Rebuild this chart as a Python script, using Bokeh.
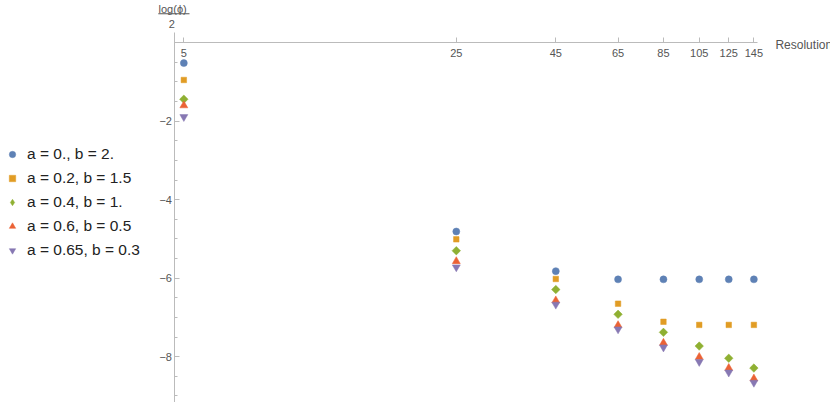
import math
from bokeh.plotting import figure
from bokeh.models import (FixedTicker, Legend, LegendItem, Label, PrintfTickFormatter,
                          Range1d, ColumnDataSource, BoxAnnotation, CDSView, IndexFilter)
from bokeh.embed import file_html
from bokeh.resources import INLINE

# ---- data ----
resolution = [5, 25, 45, 65, 85, 105, 125, 145]
series_labels = ["a = 0., b = 2.", "a = 0.2, b = 1.5", "a = 0.4, b = 1.",
                 "a = 0.6, b = 0.5", "a = 0.65, b = 0.3"]
phi_a0_b2 = [-0.52, -4.81, -5.82, -6.03, -6.03, -6.03, -6.03, -6.03]
phi_a02_b15 = [-0.95, -5.01, -6.02, -6.65, -7.11, -7.19, -7.19, -7.19]
phi_a04_b1 = [-1.44, -5.30, -6.29, -6.92, -7.38, -7.73, -8.04, -8.29]
phi_a06_b05 = [-1.60, -5.57, -6.57, -7.20, -7.65, -8.01, -8.29, -8.56]
phi_a065_b03 = [-1.89, -5.72, -6.67, -7.30, -7.76, -8.13, -8.40, -8.66]
y_major_ticks = [-8, -6, -4, -2]
y_minor_ticks = [-9, -8.5, -7.5, -7, -6.5, -5.5, -5, -4.5, -3.5, -3, -2.5,
                 -1.5, -1, -0.5]

series = [phi_a0_b2, phi_a02_b15, phi_a04_b1, phi_a06_b05, phi_a065_b03]
colors = ["#5E81B5", "#E19C24", "#8FB032", "#EB6235", "#8778B3"]
markers = ["circle", "square", "square", "triangle", "inverted_triangle"]
legend_markers = ["circle", "square", "diamond", "triangle", "inverted_triangle"]
angles = [0, 0, math.pi / 4, 0, 0]
sizes = [7, 5.5, 6, 8, 8]

FONT = "Liberation Sans"
AX = "#bbbbbb"
LBL = "#555555"

X_AXIS_START, X_AXIS_END = 4.73, 148
Y_AXIS_START, Y_AXIS_END = -9.17, 0.26

p = figure(width=830, height=402, output_backend="svg", toolbar_location=None,
           x_axis_type="log", x_axis_location="above", y_axis_location="right",
           x_range=Range1d(1.693, 228.0), y_range=Range1d(-9.167, 1.075),
           min_border_left=0, min_border_right=0, min_border_top=0,
           min_border_bottom=0)
p.outline_line_color = None
p.xgrid.visible = False
p.ygrid.visible = False
p.background_fill_color = "white"
p.border_fill_color = "white"

# x axis (drawn at y = 0, ticks up, labels below the line)
xa = p.xaxis[0]
xa.fixed_location = 0
xa.bounds = (X_AXIS_START, X_AXIS_END)
xa.ticker = FixedTicker(ticks=resolution, minor_ticks=[])
xa.formatter = PrintfTickFormatter(format="%d")
xa.axis_line_color = AX
xa.major_tick_line_color = AX
xa.major_tick_out = 5
xa.major_tick_in = 0
xa.minor_tick_line_color = None
xa.major_label_standoff = -19
xa.major_label_text_font = FONT
xa.major_label_text_font_size = "11px"
xa.major_label_text_color = LBL

# y axis (drawn at the left end of the x axis, ticks to the right, labels left)
ya = p.yaxis[0]
ya.fixed_location = X_AXIS_START
ya.bounds = (Y_AXIS_START, Y_AXIS_END)
ya.ticker = FixedTicker(ticks=y_major_ticks, minor_ticks=y_minor_ticks)
ya.major_label_overrides = {t: "\u2212" + str(abs(t)) for t in y_major_ticks}
ya.axis_line_color = AX
ya.major_tick_line_color = AX
ya.minor_tick_line_color = AX
ya.major_tick_out = 5
ya.major_tick_in = 0
ya.minor_tick_out = 3
ya.minor_tick_in = 0
ya.major_label_standoff = -20
ya.major_label_text_font = FONT
ya.major_label_text_font_size = "11px"
ya.major_label_text_color = LBL

items = []
for lab, vals, c, m, lm, a, s in zip(series_labels, series, colors, markers,
                                     legend_markers, angles, sizes):
    src = ColumnDataSource(dict(x=resolution, y=vals))
    key = None
    if lm != m:
        # legend swatch: one small diamond drawn underneath the first point
        # (hidden by it), so the key shows the diamond shape
        key = p.scatter("x", "y", source=src, marker=lm, size=s,
                        fill_color=c, line_color=c, line_width=0.5,
                        view=CDSView(filter=IndexFilter([0])))
    r = p.scatter("x", "y", source=src, marker=m, size=s, angle=a,
                  fill_color=c, line_color=c, line_width=0.5)
    items.append(LegendItem(label=lab, renderers=[key if key is not None else r]))

legend = Legend(items=items, location=(4, 142), orientation="vertical",
                border_line_color=None, background_fill_alpha=0,
                padding=0, margin=0, spacing=4, glyph_width=16, glyph_height=16,
                label_height=20, label_standoff=7,
                label_text_font=FONT, label_text_font_size="15.5px",
                label_text_color="#222222")
p.add_layout(legend)

# axis titles
p.add_layout(Label(x=164.7, y=-0.07, text="Resolution", text_font=FONT,
                   text_font_size="12px", text_color=LBL, text_baseline="middle",
                   text_align="left"))
p.add_layout(Label(x=4.68, y=0.87, text="log(\u03d5)", text_font=FONT,
                   text_font_size="11px", text_color=LBL, text_baseline="middle",
                   text_align="center"))
p.add_layout(Label(x=4.66, y=0.47, text="2", text_font=FONT,
                   text_font_size="11px", text_color=LBL, text_baseline="middle",
                   text_align="center"))
p.add_layout(BoxAnnotation(left=4.30, right=5.17, bottom=0.723, top=0.749,
                           fill_color=LBL, fill_alpha=1, line_color=None))

open("out.html", "w").write(file_html(p, INLINE))
